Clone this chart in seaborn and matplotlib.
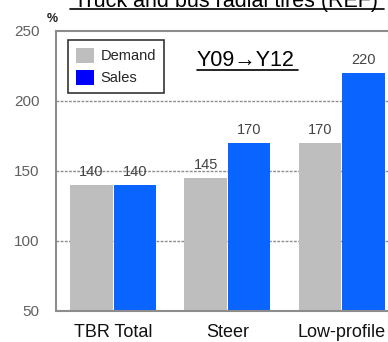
import matplotlib
matplotlib.use("Agg")
import matplotlib.pyplot as plt
from matplotlib.patches import Patch
from matplotlib.lines import Line2D
import seaborn as sns
import pandas as pd

# Growth index Y09 -> Y12 (Y09 = 100), truck and bus radial tires
categories = ["TBR Total", "Steer", "Low-profile"]
demand = [140, 145, 170]
sales = [140, 170, 220]
series_names = ["Demand", "Sales"]
y_ticks = [50, 100, 150, 200, 250]

df = pd.DataFrame({
    "category": categories * 2,
    "series": [series_names[0]] * len(categories) + [series_names[1]] * len(categories),
    "value": demand + sales,
})

sns.set_style("white")
plt.rcParams["font.family"] = ["Liberation Sans", "DejaVu Sans"]

bar_colors = {"Demand": "#BEBEBE", "Sales": "#0A64FF"}
legend_colors = {"Demand": "#BEBEBE", "Sales": "#0000FF"}

fig = plt.figure(figsize=(3.88, 3.42), dpi=100)
ax = fig.add_axes([0.1443, 0.0921, 0.884, 0.8173])

sns.barplot(data=df, x="category", y="value", hue="series", order=categories,
            hue_order=series_names, palette=bar_colors, width=0.76, gap=0.02,
            saturation=1, edgecolor="none", linewidth=0, legend=False, ax=ax)

ax.set_ylim(50, 250)
ax.set_xlim(-0.5, 2.5)
ax.set_yticks(y_ticks)
ax.set_xlabel("")
ax.set_ylabel("")

# Dashed reference lines inside the plot area
for yv in y_ticks[1:-1]:
    ax.axhline(yv, color="#8C8C8C", lw=1.0, ls=(0, (2, 1)), zorder=0)

for side in ["left", "bottom", "top", "right"]:
    ax.spines[side].set_color("#8C8C8C")
    ax.spines[side].set_linewidth(1.5)

ax.tick_params(axis="y", length=0, pad=12, labelsize=11, labelcolor="#606060")
ax.tick_params(axis="x", length=0, pad=10, labelsize=13, labelcolor="#111111")
ax.set_xticks([0.5, 1.5], minor=True)
ax.tick_params(axis="x", which="minor", direction="in", length=4, color="#666666", width=1)

for cont in ax.containers:
    ax.bar_label(cont, fmt="%d", padding=4, fontsize=10.5, color="#444444")

handles = [Patch(facecolor=legend_colors[s], edgecolor="none", label=s) for s in series_names]
leg = ax.legend(handles=handles, loc="upper left", bbox_to_anchor=(0.035, 0.968),
                frameon=True, fancybox=False, fontsize=10.5, handlelength=1.2,
                handleheight=1.2, handletextpad=0.5, borderpad=0.55, labelspacing=0.45,
                borderaxespad=0)
leg.get_frame().set_edgecolor("black")
leg.get_frame().set_linewidth(1.2)

ax.text(0.41, 0.875, "Y09\u2192Y12", transform=ax.transAxes, fontsize=15.5,
        ha="left", va="baseline", color="black")
ax.add_line(Line2D([0.412, 0.706], [0.86, 0.86], transform=ax.transAxes,
                   color="black", lw=1.2, clip_on=False))

fig.text(0.582, 1 - 7 / 342, "Truck and bus radial tires (REF)", fontsize=15.5,
         ha="center", va="baseline", color="black")
fig.add_artist(Line2D([70 / 388, 384 / 388], [1 - 9 / 342, 1 - 9 / 342],
                      transform=fig.transFigure, color="black", lw=1.2))

fig.text(47 / 388, 1 - 22 / 342, "%", fontsize=9, ha="left", va="baseline",
         color="#222222", fontweight="bold")

fig.savefig("out.png", dpi=100)
